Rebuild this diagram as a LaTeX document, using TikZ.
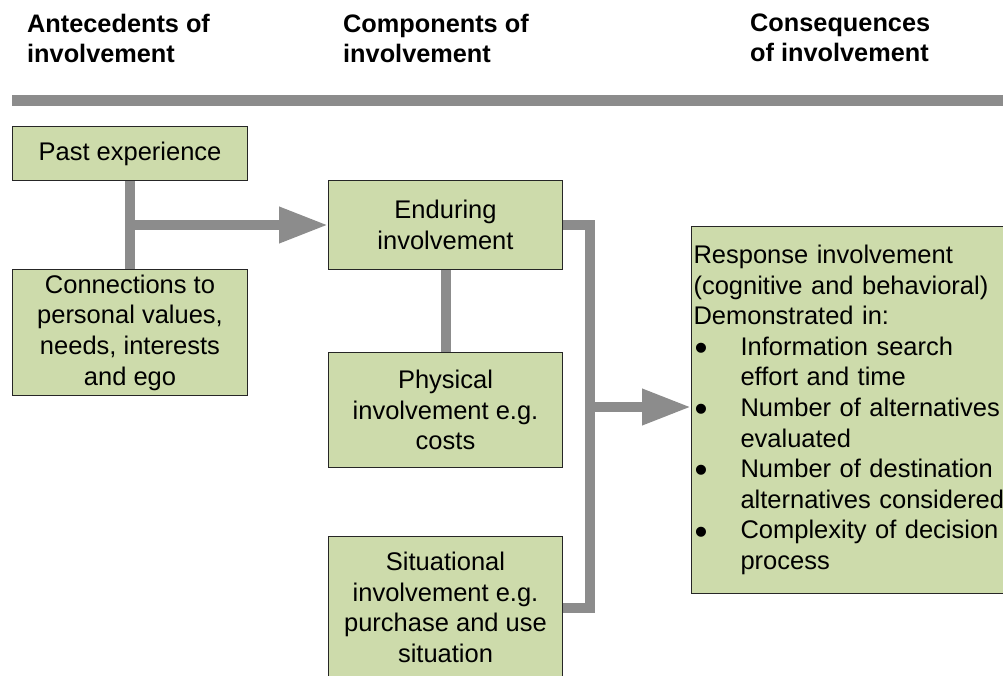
\documentclass[tikz,border=0pt]{standalone}
\usepackage{fontspec}
\setmainfont{Liberation Sans}
\usetikzlibrary{arrows.meta}
\definecolor{boxfill}{HTML}{CDDBAB}
\definecolor{lgray}{HTML}{8C8C8C}
\tikzset{
  box/.style={draw=black!85, line width=1pt, fill=boxfill, inner sep=2pt, align=center,
    anchor=north west, font=\fontsize{25.5}{30.6}\selectfont},
  head/.style={anchor=north west, inner sep=0pt, align=left,
    font=\fontsize{25.3}{30}\selectfont\bfseries},
  conn/.style={draw=lgray, line width=10pt, line join=miter},
  arr/.style={conn, -{Triangle[length=49pt, width=34pt]}}
}
\newcommand{\bul}{\makebox[47pt][l]{\hspace*{1pt}\raisebox{-0.2em}{\scalebox{1.45}{\textbullet}}}}
\newcommand{\ind}{\hspace*{47pt}}
\begin{document}
\begin{tikzpicture}[x=1pt, y=-1pt]
\useasboundingbox (0,0) rectangle (1003,675);
% headers
\node[head] (h1) at (27,14) {Antecedents of\\involvement};
\node[head] (h2) at (343,14) {Components of\\involvement};
\node[head] (h3) at (750,14) {Consequences\\of involvement};
\fill[lgray] (12,95) rectangle (1010,106);
% boxes
\node[box, minimum width=235pt, minimum height=54pt] (past) at (12,126) {Past experience};
\node[box, minimum width=235pt, minimum height=126pt] (conn) at (12,269)
  {Connections to\\personal values,\\needs, interests\\and ego};
\node[box, minimum width=234pt, minimum height=89pt] (endur) at (328,180)
  {Enduring\\involvement};
\node[box, minimum width=234pt, minimum height=115pt] (phys) at (328,352)
  {Physical\\involvement e.g.\\costs};
\node[box, minimum width=234pt, minimum height=142pt] (sit) at (328,536)
  {Situational\\involvement e.g.\\purchase and use\\situation};
\node[box, align=left, text width=330pt, minimum height=367pt, inner sep=2pt] (resp) at (691,226)
  {Response involvement\\(cognitive and behavioral)\\Demonstrated in:\\
   \bul Information search\\\ind effort and time\\
   \bul Number of alternatives\\\ind evaluated\\
   \bul Number of destination\\\ind alternatives considered\\
   \bul Complexity of decision\\\ind process};
% connectors
\draw[conn] (past.south) -- (conn.north);
\draw[arr] (past.south |- endur.west) -- (endur.west);
\draw[conn] (endur.south) -- (phys.north);
\coordinate (bus) at (590,407);
\draw[conn] (endur.east) -| (bus) |- (sit.east);
\draw[arr] ([xshift=-5pt]bus) -- (bus -| resp.west);
\end{tikzpicture}
\end{document}
